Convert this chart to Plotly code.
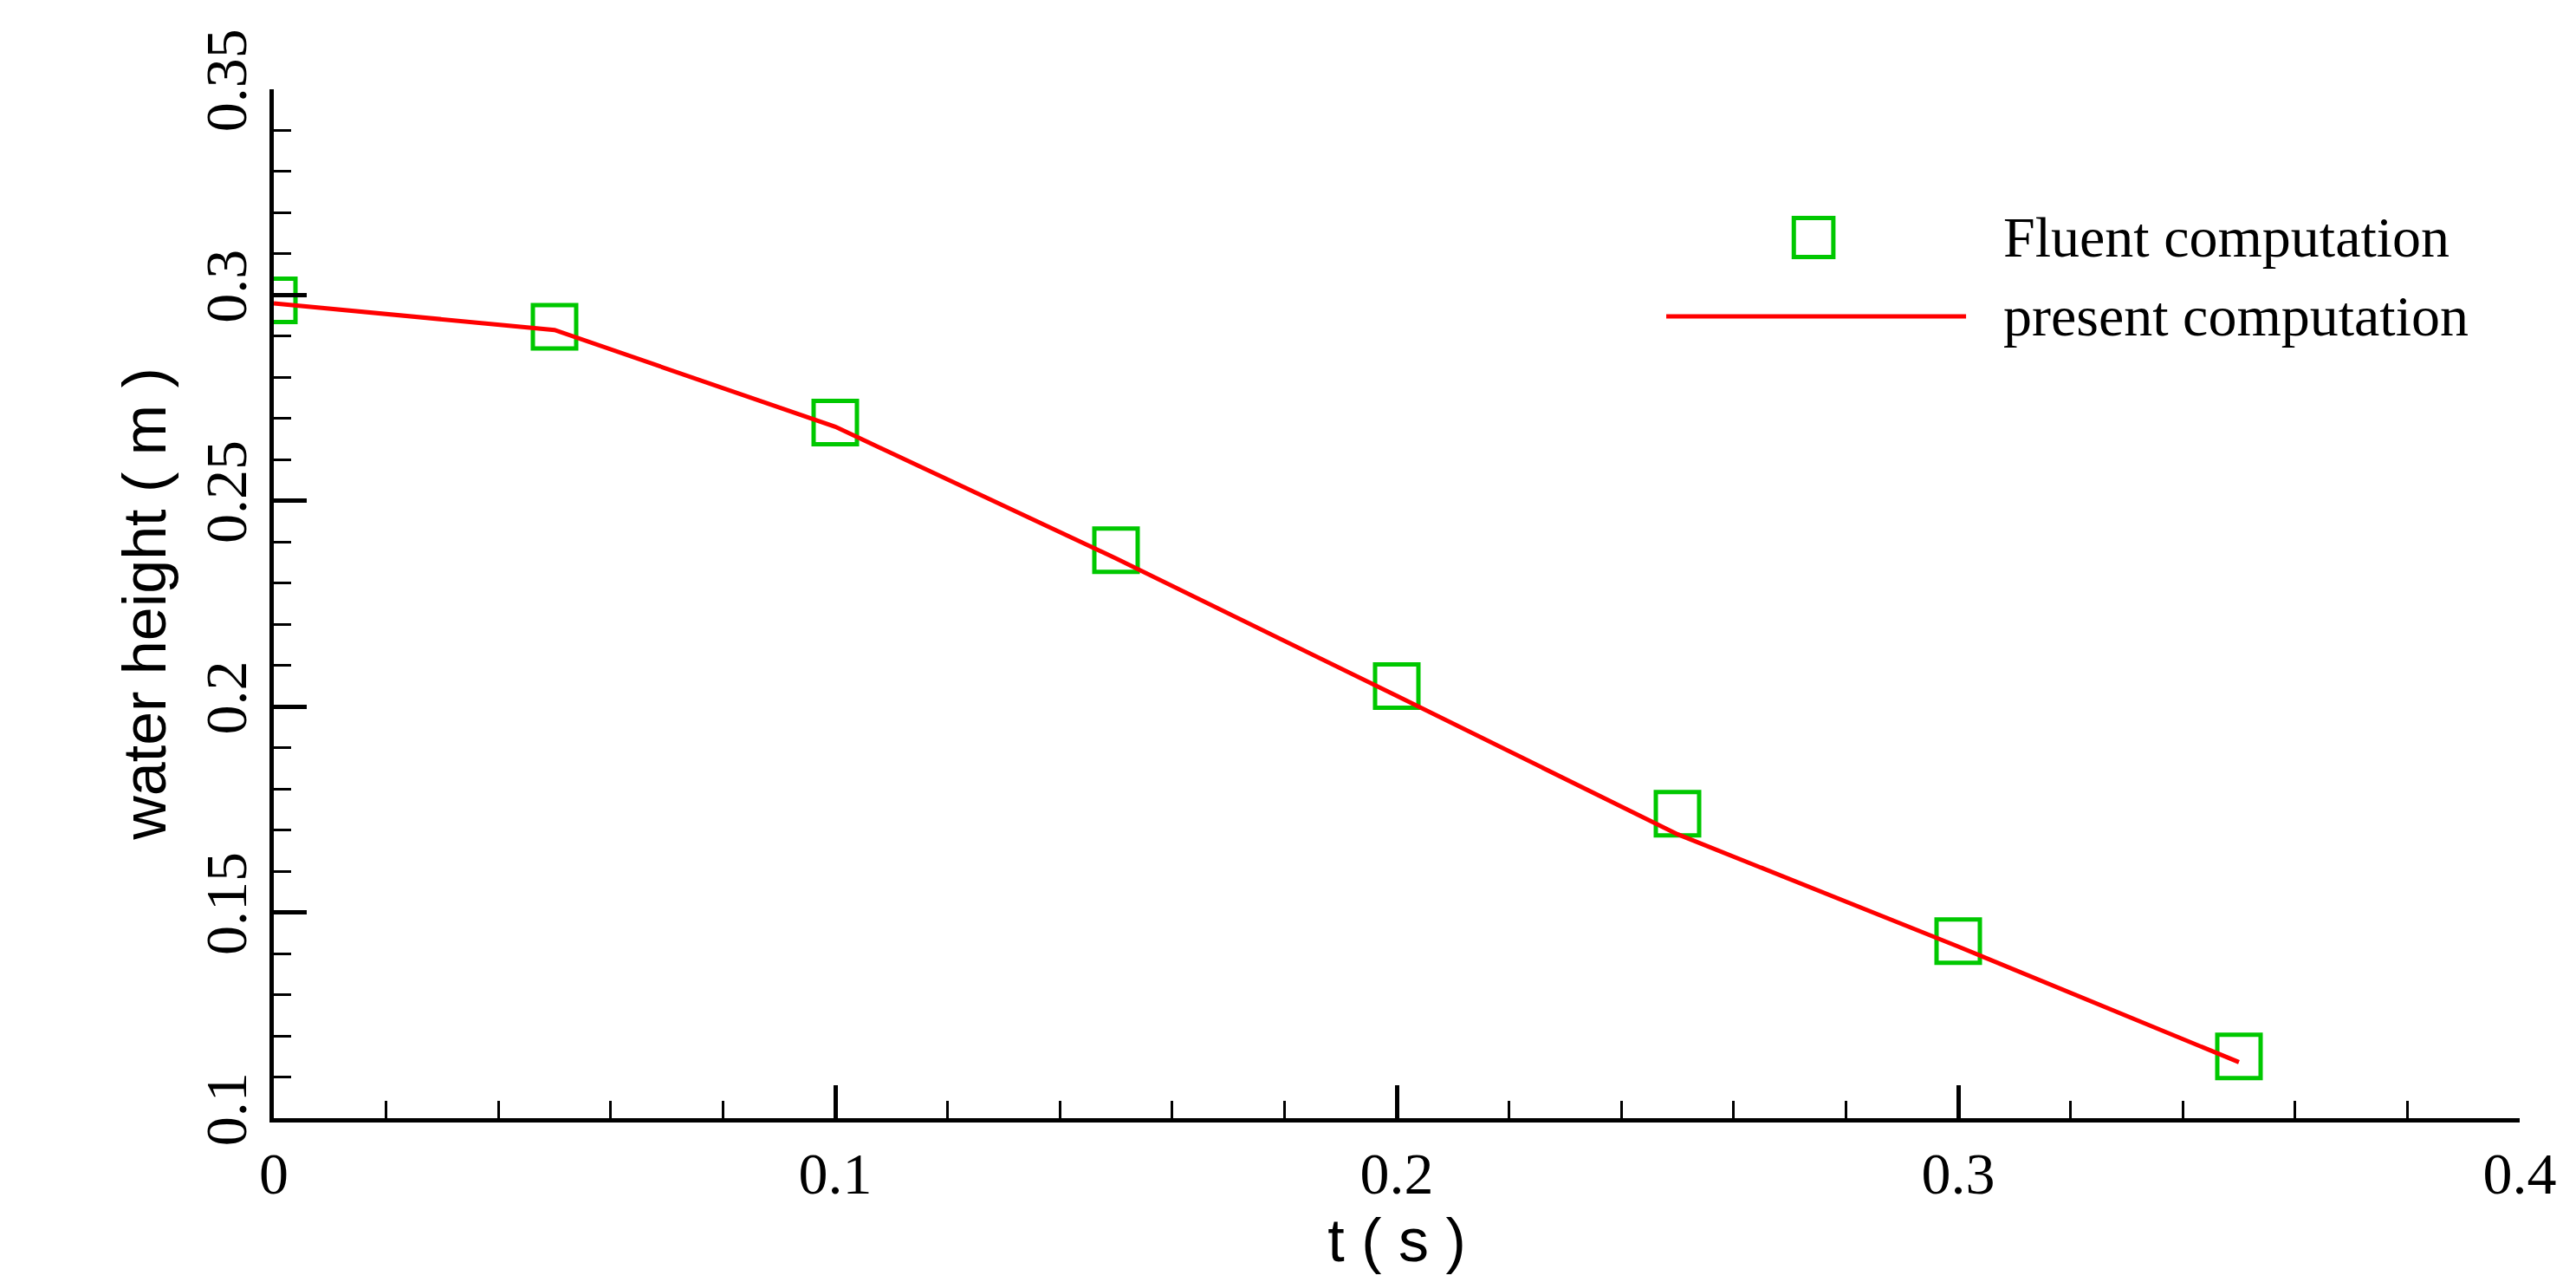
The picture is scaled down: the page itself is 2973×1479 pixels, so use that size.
import plotly.graph_objects as go

t_fluent = [0.0, 0.05, 0.1, 0.15, 0.2, 0.25, 0.3, 0.35]
h_fluent = [0.2987, 0.2923, 0.269, 0.238, 0.205, 0.174, 0.143, 0.115]
t_present = [0.0, 0.05, 0.1, 0.15, 0.2, 0.25, 0.3, 0.35]
h_present = [0.298, 0.2915, 0.268, 0.236, 0.2026, 0.169, 0.1417, 0.1136]
legend_labels = ["Fluent computation", "present computation"]

GREEN = "#00c800"
RED = "#ff0000"
fig = go.Figure()
fig.add_trace(go.Scatter(x=t_fluent, y=h_fluent, mode="markers", name=legend_labels[0], showlegend=False,
    marker=dict(symbol="square-open", size=50, color=GREEN, line=dict(width=5, color=GREEN))))
fig.add_trace(go.Scatter(x=t_present, y=h_present, mode="lines", name=legend_labels[1], showlegend=False,
    line=dict(color=RED, width=5)))

# manual legend
fig.add_shape(type="rect", xref="paper", yref="paper", x0=0.6856-0.0088, x1=0.6856+0.0088,
              y0=0.856-0.019, y1=0.856+0.019, line=dict(color=GREEN, width=5))
fig.add_shape(type="line", xref="paper", yref="paper", x0=0.620, x1=0.7535, y0=0.7793, y1=0.7793,
              line=dict(color=RED, width=5))
for txt, yy in zip(legend_labels, [0.856, 0.7793]):
    fig.add_annotation(text=txt, xref="paper", yref="paper", x=0.7694, y=yy, xanchor="left", yanchor="middle",
                       showarrow=False, font=dict(family="Liberation Serif", size=66, color="black"))

tickfont = dict(family="Liberation Serif", size=68, color="black")
fig.update_layout(
    width=2973, height=1479, paper_bgcolor="white", plot_bgcolor="white",
    margin=dict(l=308, r=73, t=95, b=197), showlegend=False,
)
fig.update_xaxes(range=[0, 0.4], tickvals=[0, 0.1, 0.2, 0.3, 0.4], ticktext=["0", "0.1", "0.2", "0.3", "0.4"],
    showgrid=False, zeroline=False, showline=True, linecolor="black", linewidth=5,
    ticks="inside", ticklen=38, tickwidth=5, tickcolor="black", tickfont=tickfont,
    minor=dict(dtick=0.02, ticks="inside", ticklen=20, tickwidth=3, tickcolor="black"),
    title=dict(text="t ( s )", font=dict(family="Liberation Sans", size=70, color="black"), standoff=0))
fig.update_yaxes(range=[0.1, 0.35], tickvals=[0.1, 0.15, 0.2, 0.25, 0.3, 0.35],
    ticktext=["0.1", "0.15", "0.2", "0.25", "0.3", "0.35"], side="left", ticklabelposition="outside",
    showgrid=False, zeroline=False, showline=True, linecolor="black", linewidth=5,
    ticks="inside", ticklen=38, tickwidth=5, tickcolor="black", tickfont=tickfont, tickangle=-90,
    minor=dict(dtick=0.01, ticks="inside", ticklen=20, tickwidth=3, tickcolor="black"),
    title=dict(text="water height ( m )", font=dict(family="Liberation Sans", size=70, color="black"), standoff=10))
fig.write_html("out.html")
